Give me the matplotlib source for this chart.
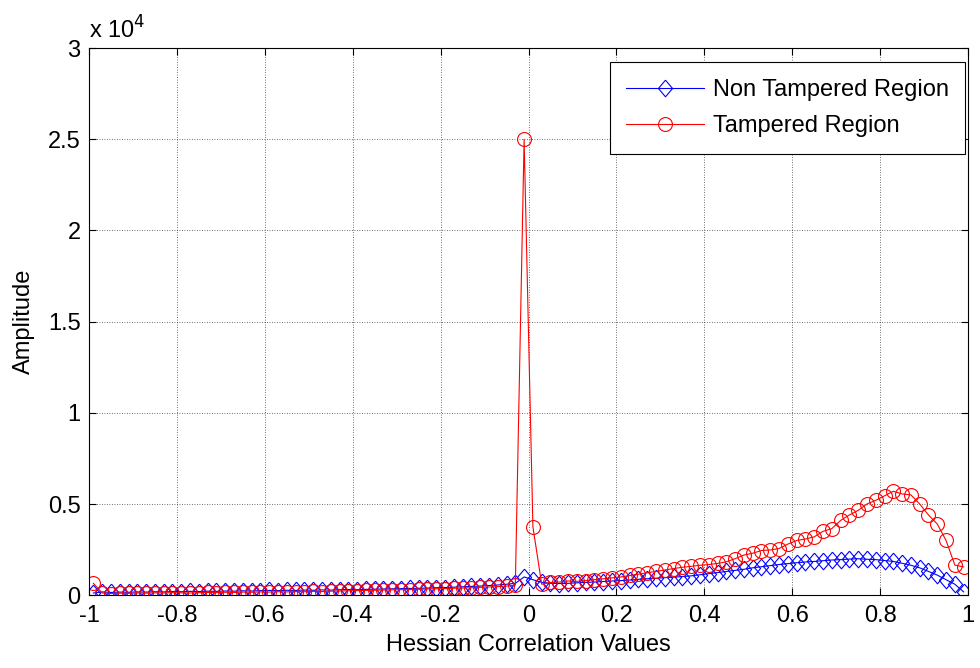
import numpy as np
import matplotlib
matplotlib.use("Agg")
import matplotlib.pyplot as plt
from matplotlib.ticker import FuncFormatter, MultipleLocator

# Histogram bin centres of the Hessian correlation values
bin_centres = np.round(np.arange(-0.99, 1.0, 0.02), 2)

non_tampered = [
    120, 180, 150, 170, 160, 180, 170, 190, 180, 200,
    190, 210, 200, 220, 210, 230, 220, 240, 230, 250,
    260, 250, 270, 260, 280, 270, 290, 280, 300, 310,
    300, 320, 330, 340, 350, 360, 370, 380, 390, 410,
    420, 440, 460, 480, 500, 530, 560, 600, 650, 1000,
    850, 700, 650, 640, 650, 680, 700, 720, 750, 780,
    800, 830, 870, 900, 930, 960, 990, 1020, 1060, 1120,
    1180, 1240, 1300, 1360, 1420, 1500, 1560, 1620, 1680, 1730,
    1780, 1820, 1850, 1890, 1930, 1950, 1980, 2000, 1970, 1950,
    1900, 1850, 1750, 1640, 1500, 1300, 1100, 850, 600, 180,
]

tampered = [
    650, 120, 90, 110, 100, 120, 110, 130, 120, 140,
    130, 120, 140, 150, 140, 160, 150, 170, 160, 180,
    170, 190, 180, 200, 190, 210, 200, 220, 230, 240,
    250, 260, 270, 280, 290, 300, 310, 320, 340, 350,
    360, 380, 390, 410, 430, 450, 470, 500, 550, 25000,
    3750, 600, 700, 720, 780, 760, 800, 850, 900, 950,
    1000, 1080, 1150, 1230, 1300, 1380, 1460, 1530, 1580, 1640,
    1680, 1740, 1830, 2000, 2200, 2300, 2450, 2480, 2560, 2800,
    3000, 3080, 3200, 3500, 3650, 4100, 4400, 4650, 5000, 5200,
    5450, 5700, 5550, 5500, 5000, 4400, 3900, 3000, 1650, 1550,
]

series_labels = ["Non Tampered Region", "Tampered Region"]

plt.rcParams["font.family"] = ["Liberation Sans", "DejaVu Sans"]
FS = 17

# slightly tall diamond, like the classic MATLAB marker
diamond = [(0, 1), (0.85, 0), (0, -1), (-0.85, 0), (0, 1)]

fig = plt.figure(figsize=(9.8, 6.68), dpi=100)
ax = fig.add_axes([0.0908, 0.109, 0.897, 0.819])

ax.plot(bin_centres, non_tampered, color="blue", lw=0.8, marker=diamond,
        ms=12, mfc="none", mec="blue", mew=0.8, label=series_labels[0])
ax.plot(bin_centres, tampered, color="red", lw=0.8, marker="o",
        ms=10, mfc="none", mec="red", mew=0.8, label=series_labels[1])

ax.set_xlim(-1, 1)
ax.set_ylim(0, 30000)
ax.xaxis.set_major_locator(MultipleLocator(0.2))
ax.yaxis.set_major_locator(MultipleLocator(5000))
ax.xaxis.set_major_formatter(FuncFormatter(lambda v, p: f"{v:g}" if abs(v) > 1e-9 else "0"))
ax.yaxis.set_major_formatter(FuncFormatter(lambda v, p: f"{v / 1e4:g}"))

ax.grid(True, color="black", linestyle=(0, (1, 2)), linewidth=0.6, alpha=0.75)
ax.tick_params(direction="in", top=True, right=True, labelsize=FS,
               length=5, width=0.8)
ax.tick_params(axis="x", pad=7)
ax.tick_params(axis="y", pad=6)
for s in ax.spines.values():
    s.set_linewidth(0.8)

ax.set_xlabel("Hessian Correlation Values", fontsize=FS, labelpad=5)
ax.set_ylabel("Amplitude", fontsize=FS, labelpad=9)
ax.text(0.0, 1.008, r"x 10$^{4}$", transform=ax.transAxes, fontsize=FS,
        ha="left", va="bottom")

leg = ax.legend(loc="upper right", bbox_to_anchor=(0.9966, 0.974),
                fontsize=FS, handlelength=3.3, fancybox=False, framealpha=1,
                edgecolor="black", borderpad=0.7, labelspacing=0.62,
                handletextpad=0.35, borderaxespad=0.0)
leg.get_frame().set_linewidth(0.8)

fig.savefig("out.png", dpi=100, facecolor="white")
